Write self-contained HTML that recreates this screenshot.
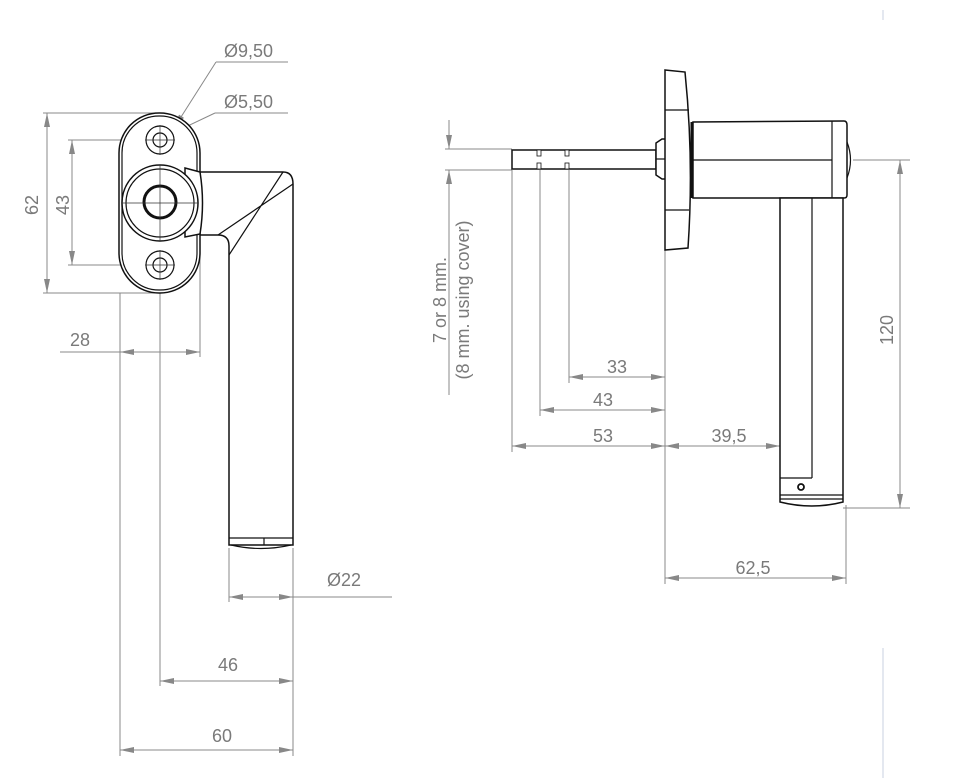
<!DOCTYPE html>
<html><head><meta charset="utf-8"><style>
html,body{margin:0;padding:0;background:#fff}
svg{display:block}
text{font-family:"Liberation Sans",sans-serif;fill:#7a7a7a;font-size:18px}
.d{stroke:#888;stroke-width:1;fill:none}
.k{stroke:#111;stroke-width:1.5;fill:#fff}
.kn{stroke:#111;stroke-width:1.2;fill:none}
.c{stroke:#333;stroke-width:0.7;fill:none}
</style></head><body>
<svg width="963" height="778" viewBox="0 0 963 778" xmlns="http://www.w3.org/2000/svg">
<defs>
<marker id="a" viewBox="0 0 14 6" refX="14" refY="3" markerWidth="14" markerHeight="6" orient="auto-start-reverse" markerUnits="userSpaceOnUse"><path d="M0,0L14,3L0,6z" fill="#888"/></marker>
</defs>

<line x1="883" y1="10" x2="883" y2="20" stroke="#e4e8f0" stroke-width="2"/>
<line x1="883" y1="648" x2="883" y2="778" stroke="#e4e8f0" stroke-width="2"/>

<!-- ===== LEFT VIEW ===== -->
<g class="d">
<line x1="43" y1="113" x2="160" y2="113"/>
<line x1="43" y1="293" x2="160" y2="293"/>
<line x1="68" y1="140" x2="160" y2="140"/>
<line x1="68" y1="265" x2="160" y2="265"/>
<line x1="120" y1="293" x2="120" y2="756"/>
<line x1="160" y1="265" x2="160" y2="686"/>
<line x1="200" y1="235" x2="200" y2="357"/>
<line x1="229" y1="548" x2="229" y2="602"/>
<line x1="293" y1="548" x2="293" y2="756"/>
<line x1="47" y1="113" x2="47" y2="293" marker-start="url(#a)" marker-end="url(#a)"/>
<line x1="72" y1="140" x2="72" y2="265" marker-start="url(#a)" marker-end="url(#a)"/>
<line x1="60" y1="352" x2="120" y2="352"/>
<line x1="120" y1="352" x2="200" y2="352" marker-start="url(#a)" marker-end="url(#a)"/>
<line x1="229" y1="597" x2="293" y2="597" marker-start="url(#a)" marker-end="url(#a)"/>
<line x1="293" y1="597" x2="392" y2="597"/>
<line x1="160" y1="681" x2="293" y2="681" marker-start="url(#a)" marker-end="url(#a)"/>
<line x1="120" y1="750" x2="293" y2="750" marker-start="url(#a)" marker-end="url(#a)"/>
<line x1="216" y1="62" x2="288" y2="62"/>
<line x1="216" y1="62" x2="174" y2="128" marker-end="url(#a)"/>
<line x1="215" y1="113" x2="288" y2="113"/>
<line x1="215" y1="113" x2="175" y2="132" marker-end="url(#a)"/>
</g>
<text transform="translate(38,205) rotate(-90)" text-anchor="middle">62</text>
<text transform="translate(69,205) rotate(-90)" text-anchor="middle">43</text>
<text x="80" y="346" text-anchor="middle">28</text>
<text x="224" y="57">Ø9,50</text>
<text x="224" y="108">Ø5,50</text>
<text x="327" y="586">Ø22</text>
<text x="228" y="671" text-anchor="middle">46</text>
<text x="222" y="742" text-anchor="middle">60</text>

<path class="k" d="M185,172 L283,172 Q293,172 293,184 L293,545 L229,545 L229,246 Q229,235 218,235 L185,235 Z"/>
<path class="kn" d="M283,172 L229,255 M293,184 L218,235"/>
<path class="kn" d="M229,538 L293,538 M231,545 Q261,552 291,545 M264,538 L264,545"/>
<rect class="k" x="119" y="113" width="81" height="180" rx="40" ry="40"/>
<rect class="kn" x="122" y="116" width="75" height="174" rx="37" ry="37"/>
<circle class="kn" cx="160" cy="140" r="14"/>
<circle class="kn" cx="160" cy="140" r="7"/>
<circle class="kn" cx="160" cy="265" r="14"/>
<circle class="kn" cx="160" cy="265" r="7"/>
<line class="c" x1="145" y1="140" x2="175" y2="140"/>
<line class="c" x1="160" y1="125" x2="160" y2="155"/>
<line class="c" x1="145" y1="265" x2="175" y2="265"/>
<line class="c" x1="160" y1="250" x2="160" y2="280"/>
<path class="k" d="M185,168 L200,172 Q205,203 200,234 L185,237 Z"/>
<circle class="k" cx="160" cy="203" r="38"/>
<circle class="kn" cx="160" cy="203" r="34"/>
<circle cx="160" cy="202" r="16" fill="none" stroke="#111" stroke-width="3"/>
<line class="c" x1="160" y1="165" x2="160" y2="241"/>
<line class="c" x1="122" y1="203" x2="198" y2="203"/>

<!-- ===== RIGHT VIEW ===== -->
<g class="d">
<line x1="445" y1="149" x2="512" y2="149"/>
<line x1="445" y1="170" x2="512" y2="170"/>
<line x1="449" y1="120" x2="449" y2="149" marker-end="url(#a)"/>
<line x1="449" y1="196" x2="449" y2="170" marker-end="url(#a)"/>
<line x1="449" y1="196" x2="449" y2="395"/>
<line x1="512" y1="170" x2="512" y2="452"/>
<line x1="540" y1="170" x2="540" y2="416"/>
<line x1="569" y1="170" x2="569" y2="383"/>
<line x1="665" y1="250" x2="665" y2="584"/>
<line x1="780" y1="400" x2="780" y2="452"/>
<line x1="846" y1="505" x2="846" y2="584"/>
<line x1="853" y1="160" x2="910" y2="160"/>
<line x1="843" y1="508" x2="910" y2="508"/>
<line x1="900" y1="160" x2="900" y2="508" marker-start="url(#a)" marker-end="url(#a)"/>
<line x1="569" y1="377" x2="665" y2="377" marker-start="url(#a)" marker-end="url(#a)"/>
<line x1="540" y1="410" x2="665" y2="410" marker-start="url(#a)" marker-end="url(#a)"/>
<line x1="512" y1="446" x2="665" y2="446" marker-start="url(#a)" marker-end="url(#a)"/>
<line x1="665" y1="446" x2="780" y2="446" marker-start="url(#a)" marker-end="url(#a)"/>
<line x1="665" y1="578" x2="846" y2="578" marker-start="url(#a)" marker-end="url(#a)"/>
</g>
<text transform="translate(446,300) rotate(-90)" text-anchor="middle">7 or 8 mm.</text>
<text transform="translate(469,300) rotate(-90)" text-anchor="middle">(8 mm. using cover)</text>
<text x="617" y="373" text-anchor="middle">33</text>
<text x="603" y="406" text-anchor="middle">43</text>
<text x="603" y="442" text-anchor="middle">53</text>
<text x="729" y="442" text-anchor="middle">39,5</text>
<text x="753" y="574" text-anchor="middle">62,5</text>
<text transform="translate(893,330) rotate(-90)" text-anchor="middle">120</text>

<rect class="k" x="512" y="150" width="144" height="19"/>
<g fill="#fff" stroke="#111" stroke-width="0.8">
<rect x="537" y="150" width="4" height="6"/><rect x="537" y="163" width="4" height="6"/>
<rect x="565" y="150" width="4" height="6"/><rect x="565" y="163" width="4" height="6"/>
</g>
<path class="k" d="M656,143 L662,139 L666,139 L666,179 L662,179 L656,175 Z"/>
<line class="kn" x1="656" y1="159" x2="666" y2="159"/>
<path class="k" d="M665,70 L685,72 Q694,160 688,248 L665,250 Z"/>
<line class="kn" x1="665" y1="110" x2="689" y2="110"/>
<line class="kn" x1="665" y1="210" x2="689" y2="210"/>
<line x1="692" y1="122" x2="692" y2="198" stroke="#111" stroke-width="3"/>
<path class="k" d="M693,122 L844,121 Q847,121 847,125 L847,195 Q847,198 844,198 L693,198 Z"/>
<line class="kn" x1="693" y1="160" x2="832" y2="160"/>
<line class="kn" x1="832" y1="121" x2="832" y2="198"/>
<path class="kn" d="M847,142 Q854,160 847,178"/>
<path class="kn" d="M797,198 Q812,206 827,198"/>
<path class="k" d="M780,198 L843,198 L843,502 Q812,510 780,502 Z"/>
<line class="kn" x1="812" y1="198" x2="812" y2="478"/>
<line class="kn" x1="780" y1="478" x2="812" y2="478"/>
<line class="kn" x1="780" y1="495" x2="843" y2="495"/>
<line class="kn" x1="780" y1="499" x2="843" y2="499"/>
<circle cx="801" cy="487" r="3" fill="#fff" stroke="#111" stroke-width="1.8"/>
</svg>
</body></html>
